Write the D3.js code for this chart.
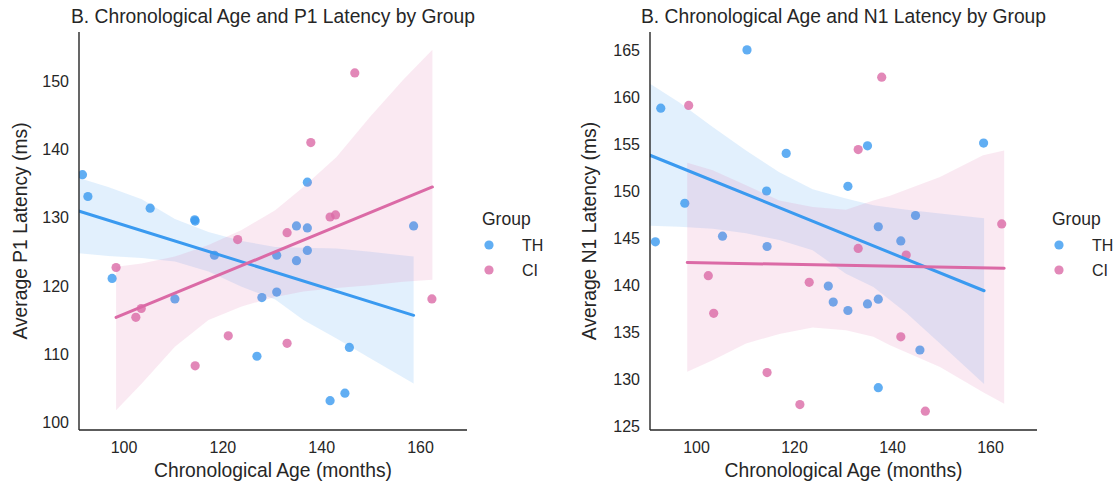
<!DOCTYPE html>
<html>
<head>
<meta charset="utf-8">
<script src="https://cdn.jsdelivr.net/npm/d3@7"></script>
<style>
  body { margin: 0; background: #fff; }
  text { font-family: "Liberation Sans", Arial, sans-serif; fill: #262626; }
</style>
</head>
<body>
<div id="chart"></div>
<script>
// ---- data ----
const groups = ['TH', 'CI']
const groupColors = ['#3a9af0', '#db6aa6']

const thAge = [91.7, 92.8, 97.7, 105.4, 110.4, 114.4, 114.5, 118.4, 127.0, 128.0, 131.0, 131.0, 135.0, 135.0, 137.2, 137.2, 137.2, 141.8, 144.8, 145.7, 158.7]
const thP1 = [136.3, 133.1, 121.1, 131.4, 118.1, 129.7, 129.5, 124.5, 109.7, 118.3, 124.5, 119.1, 128.8, 123.7, 128.5, 135.2, 125.2, 103.2, 104.3, 111.0, 128.8]
const thN1 = [144.6, 158.8, 148.7, 145.2, 165.0, 150.0, 144.1, 154.0, 139.9, 138.2, 150.5, 137.3, 154.8, 138.0, 146.2, 138.5, 129.1, 144.7, 147.4, 133.1, 155.1]

const ciAge = [98.5, 102.5, 103.6, 114.5, 121.2, 123.1, 133.1, 133.1, 137.9, 141.8, 142.9, 146.8, 162.4]
const ciP1 = [122.7, 115.4, 116.7, 108.3, 112.7, 126.8, 127.8, 111.6, 141.0, 130.1, 130.4, 151.2, 118.1]
const ciN1 = [159.1, 141.0, 137.0, 130.7, 127.3, 140.3, 154.4, 143.9, 162.1, 134.5, 143.2, 126.6, 146.5]

// regression fit end points [age, latency]
const thP1Fit = [[90.8, 131.0], [158.7, 115.7]]
const ciP1Fit = [[98.5, 115.4], [162.5, 134.5]]
const thN1Fit = [[90.6, 153.8], [158.8, 139.4]]
const ciN1Fit = [[98.2, 142.4], [162.9, 141.8]]

// confidence bands
const thP1BandAge = [91.0, 96.9, 103.7, 110.4, 117.2, 123.9, 130.7, 136.4, 143.1, 149.9, 158.7]
const thP1Upper = [135.8, 134.5, 132.7, 129.8, 127.9, 126.6, 125.7, 125.6, 125.5, 125.0, 124.3]
const thP1Lower = [124.8, 124.4, 124.1, 123.6, 122.1, 119.9, 118.0, 115.0, 112.3, 109.4, 105.7]

const ciP1BandAge = [98.5, 103.7, 110.4, 117.2, 123.9, 130.7, 136.4, 143.1, 149.9, 156.6, 162.5]
const ciP1Upper = [122.8, 123.3, 124.3, 126.0, 128.2, 131.1, 134.5, 138.9, 144.8, 150.2, 154.6]
const ciP1Lower = [101.8, 105.7, 111.1, 115.0, 117.0, 118.4, 119.2, 119.7, 120.1, 120.6, 120.9]

const thN1BandAge = [90.6, 96.6, 103.4, 110.2, 117.0, 123.8, 130.6, 136.2, 143.0, 149.8, 158.8]
const thN1Upper = [161.4, 159.4, 156.8, 154.3, 152.0, 150.2, 149.2, 148.5, 148.0, 147.6, 147.1]
const thN1Lower = [146.3, 146.2, 146.0, 145.5, 144.8, 143.7, 141.2, 139.8, 137.0, 133.8, 129.5]

const ciN1BandAge = [98.2, 103.4, 110.2, 117.0, 123.8, 130.6, 136.2, 139.6, 149.8, 158.6, 162.9]
const ciN1Upper = [153.0, 152.2, 150.6, 149.0, 148.3, 148.0, 149.0, 149.5, 151.5, 153.8, 154.3]
const ciN1Lower = [130.8, 132.0, 133.8, 134.8, 135.5, 135.2, 134.5, 133.6, 131.3, 128.6, 127.4]

const xTicks = [100, 120, 140, 160]
const p1Ticks = [100, 110, 120, 130, 140, 150]
const n1Ticks = [125, 130, 135, 140, 145, 150, 155, 160, 165]

// ---- layout ----
const width = 1119
const height = 482
const svg = d3.select('#chart').append('svg')
  .attr('width', width)
  .attr('height', height)

const zip = (a, b, c) => a.map((d, i) => ({ x: d, hi: b[i], lo: c ? c[i] : null }))

const panels = [
  {
    id: 'p1',
    left: 79, right: 467, top: 32, bottom: 430,
    xDomain: [91.0, 169.5], yDomain: [98.9, 157.2],
    yTicks: p1Ticks,
    title: 'B. Chronological Age and P1 Latency by Group',
    ylabel: 'Average P1 Latency (ms)',
    ylabelX: 20,
    legendX: 482,
    series: [
      { pts: thAge.map((a, i) => [a, thP1[i]]), fit: thP1Fit, band: zip(thP1BandAge, thP1Upper, thP1Lower) },
      { pts: ciAge.map((a, i) => [a, ciP1[i]]), fit: ciP1Fit, band: zip(ciP1BandAge, ciP1Upper, ciP1Lower) }
    ]
  },
  {
    id: 'n1',
    left: 650, right: 1037, top: 32, bottom: 430,
    xDomain: [90.6, 169.6], yDomain: [124.6, 166.9],
    yTicks: n1Ticks,
    title: 'B. Chronological Age and N1 Latency by Group',
    ylabel: 'Average N1 Latency (ms)',
    ylabelX: 589,
    legendX: 1052,
    series: [
      { pts: thAge.map((a, i) => [a, thN1[i]]), fit: thN1Fit, band: zip(thN1BandAge, thN1Upper, thN1Lower) },
      { pts: ciAge.map((a, i) => [a, ciN1[i]]), fit: ciN1Fit, band: zip(ciN1BandAge, ciN1Upper, ciN1Lower) }
    ]
  }
]

panels.forEach((p) => {
  const x = d3.scaleLinear().domain(p.xDomain).range([p.left, p.right])
  const y = d3.scaleLinear().domain(p.yDomain).range([p.bottom, p.top])
  const g = svg.append('g')

  g.append('clipPath').attr('id', 'clip-' + p.id)
    .append('rect')
    .attr('x', p.left).attr('y', p.top)
    .attr('width', p.right - p.left).attr('height', p.bottom - p.top)

  const plot = g.append('g').attr('clip-path', `url(#clip-${p.id})`)

  const area = d3.area()
    .x(d => x(d.x))
    .y0(d => y(d.lo))
    .y1(d => y(d.hi))

  // matplotlib order: scatter + band for each group, then lines on top
  p.series.forEach((s, i) => {
    plot.append('g')
      .selectAll('circle')
      .data(s.pts)
      .enter()
      .append('circle')
      .attr('cx', d => x(d[0]))
      .attr('cy', d => y(d[1]))
      .attr('r', 4.6)
      .style('fill', groupColors[i])
      .style('fill-opacity', 0.8)

    plot.append('path')
      .datum(s.band)
      .attr('d', area)
      .style('fill', groupColors[i])
      .style('fill-opacity', 0.15)
  })

  p.series.forEach((s, i) => {
    plot.append('path')
      .datum(s.fit)
      .attr('d', d3.line().x(d => x(d[0])).y(d => y(d[1])))
      .style('fill', 'none')
      .style('stroke', groupColors[i])
      .style('stroke-width', 3)
      .style('stroke-linecap', 'round')
  })

  // axes (seaborn white style: no tick marks)
  const xAxis = g.append('g')
    .attr('transform', `translate(0,${p.bottom})`)
    .call(d3.axisBottom(x).tickValues(xTicks).tickSize(0).tickPadding(12))
  const yAxis = g.append('g')
    .attr('transform', `translate(${p.left},0)`)
    .call(d3.axisLeft(y).tickValues(p.yTicks).tickSize(0).tickPadding(10))

  ;[xAxis, yAxis].forEach((a) => {
    a.select('.domain').remove()
    a.selectAll('text')
      .style('font-size', '16px')
      .style('font-family', '"Liberation Sans", Arial, sans-serif')
      .style('fill', '#262626')
  })

  g.append('line')
    .attr('x1', p.left).attr('x2', p.left)
    .attr('y1', p.top).attr('y2', p.bottom)
    .style('stroke', '#262626').style('stroke-width', 1.4)
  g.append('line')
    .attr('x1', p.left).attr('x2', p.right)
    .attr('y1', p.bottom).attr('y2', p.bottom)
    .style('stroke', '#262626').style('stroke-width', 1.4)

  g.append('text')
    .attr('x', (p.left + p.right) / 2)
    .attr('y', 23)
    .attr('text-anchor', 'middle')
    .style('font-size', '19.3px')
    .text(p.title)

  g.append('text')
    .attr('x', (p.left + p.right) / 2)
    .attr('y', 477)
    .attr('text-anchor', 'middle')
    .style('font-size', '19.3px')
    .text('Chronological Age (months)')

  g.append('text')
    .attr('transform', `translate(${p.ylabelX + 7},${(p.top + p.bottom) / 2}) rotate(-90)`)
    .attr('text-anchor', 'middle')
    .style('font-size', '19.3px')
    .text(p.ylabel)

  // legend
  const lg = g.append('g')
  lg.append('text')
    .attr('x', p.legendX)
    .attr('y', 225)
    .style('font-size', '17.5px')
    .text('Group')
  groups.forEach((name, i) => {
    lg.append('circle')
      .attr('cx', p.legendX + 7)
      .attr('cy', 245 + i * 25)
      .attr('r', 4.6)
      .style('fill', groupColors[i])
      .style('fill-opacity', 0.8)
    lg.append('text')
      .attr('x', p.legendX + 40)
      .attr('y', 250.5 + i * 25)
      .style('font-size', '16px')
      .text(name)
  })
})
</script>
</body>
</html>
